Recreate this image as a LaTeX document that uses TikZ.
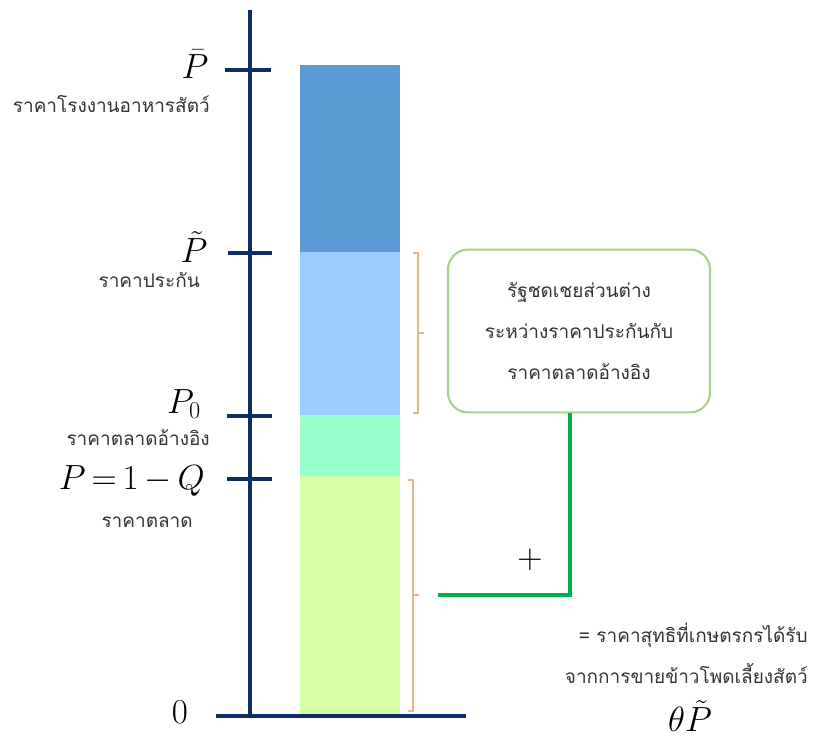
\documentclass[tikz,border=0pt]{standalone}
\usepackage{fontspec}
\newfontfamily\thaifont[Script=Thai]{Loma}
\usepackage{tikz}
\usetikzlibrary{positioning,calc}
\definecolor{axNavy}{HTML}{0E2D63}
\definecolor{barDark}{HTML}{5B9BD5}
\definecolor{barLight}{HTML}{99CCFF}
\definecolor{barMint}{HTML}{99FFCC}
\definecolor{barLime}{HTML}{D4FFA4}
\definecolor{braceOrange}{HTML}{F4B183}
\definecolor{boxGreen}{HTML}{A9D18E}
\definecolor{linkGreen}{HTML}{00B050}
\definecolor{txtGray}{HTML}{333333}

\begin{document}
\begin{tikzpicture}[x=0.025cm, y=-0.025cm]
\tikzset{axis/.style={draw=axNavy, line width=3pt},
 tick/.style={draw=axNavy, line width=3pt},
 thai/.style={font=\thaifont\fontsize{13.5}{29}\selectfont, text=txtGray, inner sep=0pt},
 mathlbl/.style={font=\fontsize{24}{28}\selectfont, inner sep=0pt},
 brace/.style={draw=braceOrange, line width=1.5pt},
 callout/.style={rectangle, rounded corners=0.5cm, draw=boxGreen, line width=1.5pt, fill=white,
  minimum width=6.55cm, minimum height=4.07cm, align=center},
 link/.style={draw=linkGreen, line width=2.5pt}}
\useasboundingbox (0,0) rectangle (815,742);

% bars
\fill[barDark] (300,65) rectangle (400,252);
\fill[barLight] (300,252) rectangle (400,415);
\fill[barMint] (300,415) rectangle (400,476);
\fill[barLime] (300,476) rectangle (400,714);

% axes and ticks
\draw[axis] (250,10) -- (250,716);
\draw[axis] (216,716) -- (466,716);
\draw[tick] (225,70) -- (271,70);
\draw[tick] (228,253) -- (272,253);
\draw[tick] (227,416) -- (272,416);
\draw[tick] (227,479) -- (272,479);

% left labels
\node[mathlbl] (pbar) at (195,64) {$\bar{P}$};
\node[thai, anchor=east] (pbarT) at (210,104) {ราคาโรงงานอาหารสัตว์};
\node[mathlbl] (ptil) at (194,247) {$\tilde{P}$};
\node[thai, anchor=east] (ptilT) at (200,280) {ราคาประกัน};
\node[mathlbl] (pzero) at (184,404) {$P_0$};
\node[thai, anchor=east] (pzeroT) at (210,438) {ราคาตลาดอ้างอิง};
\node[mathlbl, anchor=east] (pmkt) at (205,481) {$P\,{=}\,1\,{-}\,Q$};
\node[thai, anchor=east] (pmktT) at (193,522) {ราคาตลาด};
\node[mathlbl] (zero) at (180,712) {$0$};

% braces
\draw[brace] (413,253) -- (418,253) -- (418,413) -- (413,413);
\draw[brace] (418,333) -- (424,333);
\draw[brace] (408,480) -- (413,480) -- (413,711) -- (408,711);
\draw[brace] (413,595) -- (419,595);

% callout and link
\node[callout, thai, inner sep=0pt] (subsidy) at (579,331) {รัฐชดเชยส่วนต่าง\\ระหว่างราคาประกันกับ\\ราคาตลาดอ้างอิง};
\coordinate (joint) at (438,595);
\draw[link] (subsidy.south) ++(-9,0) |- (joint);

\node[mathlbl, font=\fontsize{34}{38}\selectfont] (plus) at (530,560) {$+$};
\node[thai, anchor=east, align=right] (net) at (808,653) {= ราคาสุทธิที่เกษตรกรได้รับ\\จากการขายข้าวโพดเลี้ยงสัตว์};
\node[mathlbl] (theta) at (690,716) {$\theta\tilde{P}$};
\end{tikzpicture}
\end{document}
